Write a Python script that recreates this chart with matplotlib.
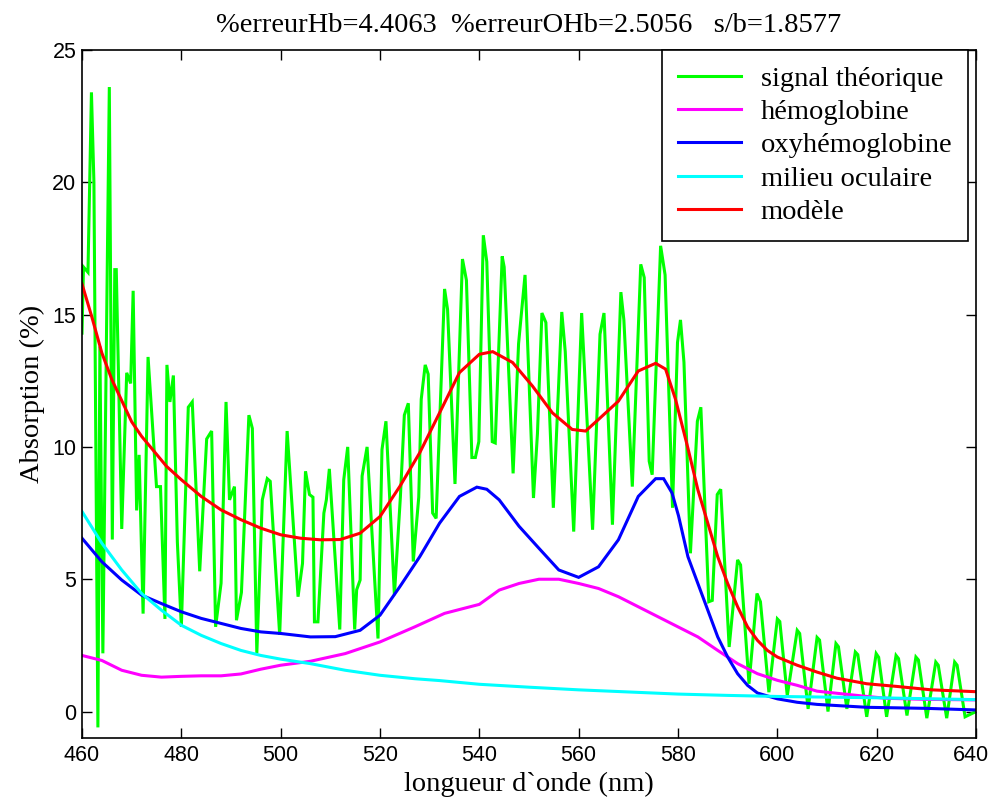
import matplotlib
matplotlib.use("Agg")
import matplotlib.pyplot as plt
from matplotlib.transforms import ScaledTranslation

# ---- data -------------------------------------------------------------
signal_wl = [460.0, 460.3, 461.2, 461.9, 462.4, 463.2, 463.6, 464.2, 465.5, 466.1,
             466.6, 466.9, 468.0, 469.0, 469.8, 470.3, 471.0, 471.5, 472.3, 473.3,
             475.0, 475.8, 476.7, 477.1, 477.7, 478.4, 479.2, 480.0, 481.4, 482.2,
             483.7, 485.1, 486.1, 486.9, 488.0, 489.0, 489.7, 490.7, 491.1, 492.1,
             493.6, 494.3, 495.2, 496.3, 497.3, 497.9, 499.8, 501.3, 503.5, 504.4,
             505.0, 505.8, 506.5, 506.8, 507.5, 508.7, 509.2, 509.8, 511.9, 512.7,
             513.5, 514.9, 515.3, 516.0, 516.4, 517.4, 519.6, 520.4, 521.2, 522.9,
             524.1, 524.9, 525.7, 526.7, 527.8, 528.3, 529.1, 529.7, 530.6, 531.3,
             533.0, 533.6, 535.1, 536.6, 537.4, 538.5, 539.2, 539.9, 540.8, 541.5,
             542.6, 543.2, 544.6, 545.0, 546.8, 547.9, 549.2, 550.9, 551.7, 552.6,
             553.4, 554.9, 556.6, 557.3, 559.0, 560.6, 562.8, 564.3, 565.1, 566.8,
             568.5, 569.1, 570.8, 572.5, 573.2, 574.2, 574.8, 576.5, 577.4, 578.9,
             579.9, 580.5, 581.2, 582.5, 583.9, 584.6, 586.2, 586.9, 587.9, 588.6,
             590.3, 592.0, 592.6, 594.3, 595.9, 596.6, 598.3, 600.0, 600.5, 602.0,
             604.0, 604.5, 606.2, 608.0, 608.5, 610.2, 611.8, 612.3, 614.0, 615.7,
             616.2, 618.0, 619.9, 620.4, 622.0, 623.9, 624.4, 626.1, 627.9, 628.4,
             630.1, 631.9, 632.4, 634.1, 635.7, 636.2, 637.8, 640.0]
signal_val = [14.3, 16.8, 16.6, 23.4, 20.0, -0.6, 13.8, 2.2, 23.6, 6.5,
              16.7, 16.7, 6.9, 12.8, 12.4, 15.9, 7.6, 9.7, 3.7, 13.4,
              8.5, 8.5, 3.5, 13.1, 11.7, 12.7, 6.4, 3.2, 11.5, 11.7,
              5.3, 10.3, 10.6, 3.2, 4.85, 11.7, 8.0, 8.5, 3.45, 4.5,
              11.2, 10.7, 2.2, 8.0, 8.8, 8.7, 2.9, 10.6, 4.34, 5.6,
              9.08, 8.2, 8.1, 3.39, 3.39, 7.5, 8.0, 9.17, 3.1, 8.76,
              10.0, 3.1, 4.6, 4.97, 8.9, 10.0, 2.76, 9.9, 10.97, 4.4,
              8.1, 11.2, 11.65, 5.67, 8.1, 11.8, 13.1, 12.75, 7.5, 7.3,
              15.97, 15.2, 8.6, 17.1, 16.3, 9.6, 9.6, 10.2, 18.0, 17.0,
              10.2, 10.15, 17.2, 16.8, 9.0, 13.9, 16.5, 8.07, 10.5, 15.06,
              14.7, 7.7, 15.1, 13.6, 6.8, 15.06, 6.87, 14.26, 15.06, 7.06,
              15.85, 14.8, 8.5, 16.9, 16.4, 9.46, 8.95, 17.6, 16.5, 7.7,
              13.95, 14.8, 13.2, 5.98, 10.97, 11.5, 4.15, 4.2, 8.2, 8.4,
              2.44, 5.73, 5.54, 1.05, 4.46, 4.15, 0.73, 3.5, 3.4, 0.6,
              3.07, 2.95, 0.1, 2.8, 2.7, 0.0, 2.57, 2.45, 0.1, 2.25,
              2.15, -0.2, 2.19, 2.05, -0.2, 2.12, 2.0, -0.15, 2.06, 1.95,
              -0.25, 1.87, 1.75, -0.25, 1.87, 1.75, -0.2, 0.0]

hb_wl = [460, 464, 468, 472, 476, 480, 484, 488, 492, 496, 500, 506, 513, 520,
         527, 533, 540, 544, 548, 552, 556, 560, 564, 568, 572, 576, 580, 584,
         588, 592, 596, 600, 604, 608, 618, 622, 630, 640]
hb_val = [2.12, 1.93, 1.56, 1.37, 1.30, 1.33, 1.35, 1.35, 1.42, 1.60, 1.75, 1.90,
          2.19, 2.63, 3.2, 3.71, 4.05, 4.59, 4.84, 5.0, 5.0, 4.84, 4.65, 4.34,
          3.96, 3.58, 3.2, 2.82, 2.31, 1.81, 1.43, 1.18, 0.99, 0.77, 0.57, 0.5,
          0.46, 0.44]

ohb_wl = [460, 464, 468, 472, 476, 480, 484, 488, 492, 496, 500, 506, 511, 516,
          520, 524, 528, 532, 536, 539.5, 541.5, 544, 548, 552, 556, 560, 564,
          568, 572, 575.5, 577.1, 578.8, 580.1, 582, 584, 586, 588, 590, 592,
          594, 596, 600, 604, 608, 618, 630, 640]
ohb_val = [6.55, 5.66, 4.97, 4.40, 4.08, 3.77, 3.52, 3.33, 3.14, 3.01, 2.95,
           2.82, 2.83, 3.07, 3.64, 4.72, 5.85, 7.12, 8.13, 8.48, 8.4, 8.0, 7.0,
           6.17, 5.35, 5.07, 5.47, 6.49, 8.13, 8.80, 8.80, 8.26, 7.4, 5.85,
           4.84, 3.83, 2.82, 2.06, 1.43, 0.99, 0.70, 0.48, 0.35, 0.27, 0.16,
           0.12, 0.06]

mil_wl = [460, 464, 468, 472, 476, 480, 484, 488, 492, 496, 500, 506, 513, 520,
          527, 532, 540, 550, 560, 570, 580, 590, 600, 620, 640]
mil_val = [7.56, 6.36, 5.35, 4.46, 3.83, 3.26, 2.88, 2.57, 2.31, 2.12, 1.98,
           1.81, 1.56, 1.37, 1.24, 1.17, 1.03, 0.92, 0.82, 0.74, 0.66, 0.61,
           0.57, 0.52, 0.45]

mod_wl = [460, 462, 464, 466, 468, 470, 472, 474, 477, 480, 484, 488, 492, 496,
          500, 504, 508, 512, 516, 520, 524, 528, 532, 536, 540, 542.7, 546.7,
          550.7, 554.7, 558.7, 561.4, 564, 568, 572, 575.5, 577.5, 579.5, 582,
          584, 586, 588, 590, 592, 594, 596, 598, 600, 604, 608, 612, 618, 624,
          631, 640]
mod_val = [16.16, 14.9, 13.55, 12.55, 11.75, 10.95, 10.4, 9.95, 9.27, 8.76,
           8.13, 7.62, 7.25, 6.93, 6.68, 6.55, 6.49, 6.5, 6.74, 7.37, 8.51,
           9.78, 11.29, 12.81, 13.5, 13.6, 13.19, 12.3, 11.29, 10.66, 10.6,
           11.04, 11.73, 12.87, 13.16, 12.94, 11.8, 9.95, 8.38, 7.12, 5.85,
           4.84, 3.96, 3.2, 2.69, 2.31, 2.06, 1.75, 1.49, 1.26, 1.05, 0.95,
           0.82, 0.75]

labels = ["signal théorique", "hémoglobine", "oxyhémoglobine",
          "milieu oculaire", "modèle"]
colors = ["#00FF00", "#FF00FF", "#0000FF", "#00FFFF", "#FF0000"]
title_text = "%erreurHb=4.4063  %erreurOHb=2.5056   s/b=1.8577"

# ---- figure -----------------------------------------------------------
W, H = 989, 806
fig = plt.figure(figsize=(W / 100, H / 100), dpi=100)
ax = fig.add_axes([82 / W, 1 - 738 / H, (976 - 82) / W, (738 - 50) / H])

serif = ["Liberation Serif", "DejaVu Serif"]
sans = ["Liberation Sans", "DejaVu Sans"]

series = [(signal_wl, signal_val), (hb_wl, hb_val), (ohb_wl, ohb_val),
          (mil_wl, mil_val), (mod_wl, mod_val)]
for (x, y), c, lab in zip(series, colors, labels):
    ax.plot(x, y, color=c, lw=2.2, label=lab, solid_joinstyle="miter")

ax.set_xlim(460, 640)
ax.set_ylim(-1, 25)
ax.set_xticks(range(460, 641, 20))
ax.set_yticks(range(0, 26, 5))
ax.tick_params(direction="in", length=7, width=1, top=True, right=True,
               labelsize=15.5)
ax.tick_params(axis="x", pad=5)
ax.tick_params(axis="y", pad=4)
for lab in ax.get_xticklabels() + ax.get_yticklabels():
    lab.set_family(sans)
# keep the last x tick label inside the picture
last = ax.get_xticklabels()[-1]
last.set_transform(last.get_transform() +
                   ScaledTranslation(-5 / 100, 0, fig.dpi_scale_trans))
for sp in ax.spines.values():
    sp.set_linewidth(1.2)

ax.set_xlabel("longueur d`onde (nm)", family=serif, fontsize=20.5, labelpad=4)
ax.set_ylabel("Absorption (%)", family=serif, fontsize=20.5, labelpad=5)
ax.set_title(title_text, family=serif, fontsize=20.5, pad=13)

leg = ax.legend(loc="upper right", bbox_to_anchor=((968 - 82) / (976 - 82), 1.0),
                borderaxespad=0, prop={"family": serif, "size": 20.5},
                fancybox=False, framealpha=1, edgecolor="black",
                handlelength=2.2, handletextpad=0.7, labelspacing=0.26,
                borderpad=0.55)
leg.get_frame().set_linewidth(1.2)

fig.savefig("out.png", dpi=100)
